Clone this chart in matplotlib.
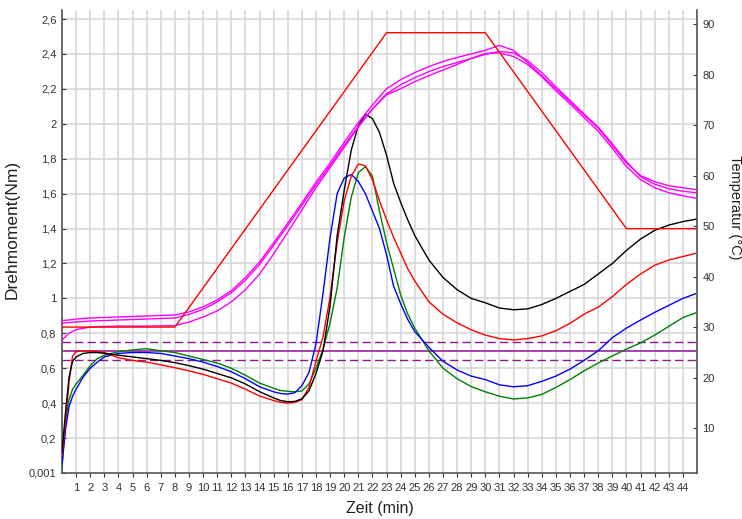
import matplotlib
matplotlib.use("Agg")
import matplotlib.pyplot as plt

plt.rcParams["font.family"] = ["Liberation Sans", "DejaVu Sans"]

# torque curves (left axis, Nm) on a common time grid (min)
t = [0, 0.25, 0.5, 0.75, 1, 1.5, 2, 2.5, 3, 4, 5, 6, 7, 8, 9, 10, 11, 12, 13, 14, 15, 15.5, 16,
     16.5, 17, 17.5, 18, 18.5, 19, 19.5, 20, 20.5, 21, 21.5, 22, 22.5, 23, 23.5, 24, 24.5, 25,
     26, 27, 28, 29, 30, 31, 32, 33, 34, 35, 36, 37, 38, 39, 40, 41, 42, 43, 44, 45]
black = [0.12, 0.35, 0.55, 0.64, 0.665, 0.685, 0.69, 0.69, 0.685, 0.675, 0.665, 0.655, 0.645, 0.632,
         0.615, 0.595, 0.57, 0.545, 0.51, 0.466, 0.43, 0.415, 0.408, 0.41, 0.425, 0.47, 0.57, 0.70,
         0.96, 1.36, 1.62, 1.85, 1.99, 2.055, 2.03, 1.95, 1.82, 1.66, 1.55, 1.45, 1.36,
         1.22, 1.12, 1.05, 1.00, 0.975, 0.945, 0.935, 0.94, 0.965, 1.00, 1.04, 1.08, 1.14, 1.20,
         1.275, 1.34, 1.39, 1.42, 1.44, 1.455]
red = [0.10, 0.30, 0.52, 0.67, 0.695, 0.70, 0.70, 0.695, 0.69, 0.66, 0.645, 0.635, 0.62, 0.603,
       0.585, 0.565, 0.54, 0.515, 0.48, 0.441, 0.415, 0.405, 0.40, 0.405, 0.42, 0.49, 0.64, 0.78,
       1.01, 1.32, 1.56, 1.70, 1.77, 1.76, 1.68, 1.56, 1.45, 1.35, 1.26, 1.17, 1.10,
       0.98, 0.91, 0.86, 0.82, 0.79, 0.77, 0.762, 0.77, 0.785, 0.815, 0.857, 0.91, 0.95, 1.01,
       1.08, 1.14, 1.19, 1.22, 1.24, 1.26]
blue = [0.05, 0.25, 0.38, 0.44, 0.48, 0.55, 0.60, 0.635, 0.665, 0.685, 0.69, 0.69, 0.685, 0.67,
        0.655, 0.635, 0.61, 0.58, 0.54, 0.494, 0.465, 0.455, 0.452, 0.46, 0.50, 0.575, 0.74, 1.03,
        1.35, 1.60, 1.69, 1.71, 1.67, 1.60, 1.50, 1.40, 1.25, 1.07, 0.97, 0.88, 0.81,
        0.72, 0.64, 0.59, 0.555, 0.535, 0.505, 0.494, 0.50, 0.525, 0.555, 0.595, 0.645, 0.70, 0.775,
        0.83, 0.876, 0.92, 0.96, 1.00, 1.03]
green = [0.03, 0.30, 0.42, 0.48, 0.51, 0.56, 0.615, 0.655, 0.675, 0.695, 0.705, 0.712, 0.70, 0.69,
         0.67, 0.65, 0.63, 0.60, 0.56, 0.515, 0.485, 0.472, 0.468, 0.465, 0.47, 0.51, 0.60, 0.71,
         0.86, 1.06, 1.35, 1.58, 1.72, 1.755, 1.70, 1.50, 1.32, 1.17, 1.02, 0.91, 0.83,
         0.70, 0.60, 0.54, 0.495, 0.465, 0.44, 0.424, 0.43, 0.45, 0.49, 0.535, 0.585, 0.63, 0.67,
         0.71, 0.745, 0.79, 0.84, 0.89, 0.92]

# limits (Nm)
lim_mid, lim_hi, lim_lo = 0.70, 0.75, 0.65

# temperature set profile (right axis, °C)
prof_t = [0, 8, 23, 30, 40, 45]
prof_T = [30, 30, 88.3, 88.3, 49.5, 49.5]

# measured temperatures (right axis, °C)
mt = [0, 0.5, 1, 2, 4, 6, 8, 9, 10, 11, 12, 13, 14, 15, 16, 17, 18, 19, 20, 21, 22, 23, 24, 25,
      26, 27, 28, 29, 30, 31, 32, 33, 34, 35, 36, 37, 38, 39, 40, 41, 42, 43, 44, 45]
mag1 = [31.3, 31.4, 31.6, 31.8, 32.0, 32.2, 32.4, 33.0, 34.0, 35.4, 37.2, 39.8, 42.9, 46.7, 50.6,
        54.6, 58.7, 62.5, 66.6, 70.5, 74.0, 77.2, 79.0, 80.4, 81.6, 82.6, 83.4, 84.1, 84.8, 85.8,
        84.8, 82.4, 79.8, 77.2, 74.6, 72.0, 69.4, 66.0, 62.5, 60.0, 58.8, 58.0, 57.6, 57.2]
mag2 = [30.8, 30.9, 31.0, 31.2, 31.4, 31.6, 31.8, 32.5, 33.5, 35.0, 36.8, 39.3, 42.4, 46.2, 50.1,
        54.1, 58.2, 62.0, 66.0, 69.8, 73.2, 76.2, 78.0, 79.4, 80.6, 81.6, 82.4, 83.2, 84.0, 84.6,
        84.3, 82.8, 80.4, 77.6, 74.9, 72.2, 69.6, 66.3, 62.8, 59.8, 58.3, 57.4, 56.9, 56.6]
mag3 = [27.4, 28.8, 29.5, 30.0, 30.2, 30.2, 30.3, 31.0, 32.0, 33.2, 35.0, 37.4, 40.5, 44.5, 48.8,
        53.2, 57.6, 61.6, 65.6, 69.6, 73.2, 76.0, 77.2, 78.6, 79.8, 80.9, 82.0, 83.2, 84.2, 84.3,
        83.6, 82.0, 79.6, 76.8, 74.2, 71.5, 68.8, 65.4, 61.8, 59.2, 57.6, 56.6, 56.0, 55.5]

y_ticks = [0.001, 0.2, 0.4, 0.6, 0.8, 1.0, 1.2, 1.4, 1.6, 1.8, 2.0, 2.2, 2.4, 2.6]
y_labels = ["0,001", "0,2", "0,4", "0,6", "0,8", "1", "1,2", "1,4", "1,6", "1,8", "2", "2,2", "2,4", "2,6"]
x_ticks = list(range(1, 45))
T_ticks = [10, 20, 30, 40, 50, 60, 70, 80, 90]

fig = plt.figure(figsize=(7.42, 5.19), dpi=100)
ax = fig.add_axes([62 / 742, 46 / 519, 635 / 742, 463 / 519])
ax.set_xlim(0, 45)
ax.set_ylim(0.0, 2.652)

ax.set_xticks(x_ticks)
ax.set_xticklabels([str(v) for v in x_ticks])
ax.set_yticks(y_ticks)
ax.set_yticklabels(y_labels)
for v in range(0, 46):
    ax.axvline(v, color="#d4d4d4", lw=1.1, zorder=0)
for v in y_ticks[1:]:
    ax.axhline(v, color="#d4d4d4", lw=1.1, zorder=0)

ax.tick_params(axis="x", direction="out", length=3, labelsize=8, colors="#333", pad=4)
ax.tick_params(axis="y", direction="in", length=3, labelsize=8, colors="#333", pad=4)
for s in ["top", "right"]:
    ax.spines[s].set_visible(False)
for s in ["left", "bottom"]:
    ax.spines[s].set_color("#555")
    ax.spines[s].set_linewidth(1.2)

ax.axhline(lim_hi, color="#8b1a8b", lw=1.0, ls=(0, (6, 3)), zorder=2)
ax.axhline(lim_lo, color="#8b1a8b", lw=1.0, ls=(0, (6, 3)), zorder=2)
ax.axhline(lim_mid, color="#a030a8", lw=1.3, zorder=2)

ax.plot(t, green, color="#008000", lw=1.0, zorder=3)
ax.plot(t, blue, color="#0000ff", lw=1.0, zorder=3)
ax.plot(t, red, color="#ff0000", lw=1.0, zorder=3)
ax.plot(t, black, color="#000000", lw=1.0, zorder=3)

ax.set_ylabel("Drehmoment(Nm)", fontsize=12.5, color="#222")
ax.yaxis.set_label_coords(-0.066, 0.527)
ax.set_xlabel("Zeit (min)", fontsize=11.5, color="#222", labelpad=6)

ax2 = ax.twinx()
ax2.set_ylim(1.1, 92.8)
ax2.set_yticks(T_ticks)
ax2.tick_params(axis="y", direction="in", length=3, labelsize=8, colors="#333", pad=4)
for s in ["top", "left", "bottom"]:
    ax2.spines[s].set_visible(False)
ax2.spines["right"].set_color("#555")
ax2.spines["right"].set_linewidth(1.2)

ax2.plot(mt, mag3, color="#ff00ff", lw=1.0)
ax2.plot(mt, mag2, color="#ff00ff", lw=1.0)
ax2.plot(mt, mag1, color="#ff00ff", lw=1.0)
ax2.plot(prof_t, prof_T, color="#ff0000", lw=1.0)

fig.text(735 / 742, 1 - 207 / 519, "Temperatur (°C)", fontsize=10.5, color="#222",
         rotation=-90, ha="center", va="center")

fig.savefig("out.png", dpi=100)
